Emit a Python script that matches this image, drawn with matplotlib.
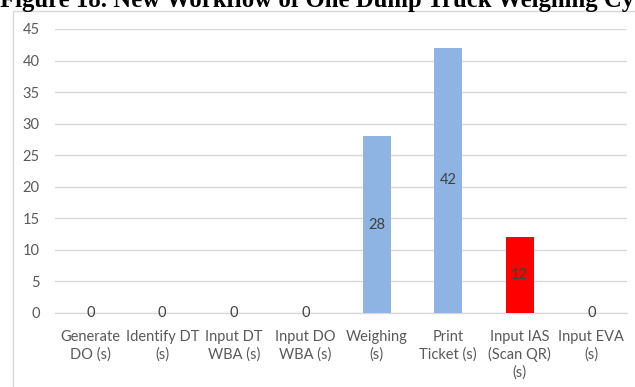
import matplotlib
matplotlib.use("Agg")
import matplotlib.pyplot as plt
from matplotlib.patches import Rectangle

# Time per step of one weighing cycle (seconds)
steps = ["Generate\nDO (s)", "Identify DT\n(s)", "Input DT\nWBA (s)", "Input DO\nWBA (s)",
         "Weighing\n(s)", "Print\nTicket (s)", "Input IAS\n(Scan QR)\n(s)", "Input EVA\n(s)"]
seconds = [0, 0, 0, 0, 28, 42, 12, 0]
bar_colors = ["#8EB4E3"] * 6 + ["#FF0000", "#8EB4E3"]
y_ticks = list(range(0, 50, 5))

W, H = 635, 387
fig = plt.figure(figsize=(W / 100, H / 100), dpi=100)
plt.rcParams["font.family"] = ["Lato", "DejaVu Sans"]

# chart frame
fig.patches.append(Rectangle((12.5 / W, -0.1), 1.2, 1.1 - 10.5 / H, transform=fig.transFigure,
                             fill=False, edgecolor="#D9D9D9", linewidth=1))

ax = fig.add_axes([55 / W, 1 - 313 / H, 572 / W, 284 / H])
x = range(len(steps))
bars = ax.bar(x, seconds, width=0.39, color=bar_colors, zorder=3)

ax.set_xlim(-0.5, len(steps) - 0.5)
ax.set_ylim(0, 45)
ax.set_yticks(y_ticks)
ax.set_xticks(list(x))
ax.set_xticklabels(steps, linespacing=1.3)
ax.tick_params(axis="y", length=0, pad=11, labelsize=10.5, labelcolor="#595959")
ax.tick_params(axis="x", length=0, pad=12, labelsize=10.5, labelcolor="#595959")
ax.grid(axis="y", color="#D9D9D9", linewidth=1, zorder=0)
for s in ["top", "right", "left"]:
    ax.spines[s].set_visible(False)
ax.spines["bottom"].set_color("#D9D9D9")
ax.spines["bottom"].set_linewidth(1)

for rect, v in zip(bars, seconds):
    ax.text(rect.get_x() + rect.get_width() / 2, v / 2, str(v), ha="center", va="center",
            fontsize=10.5, color="#404040", zorder=4)

fig.text(0, 1 - 7 / H, "Figure 18. New Workflow of One Dump Truck Weighing Cycle",
         family="Liberation Serif", fontweight="bold", fontsize=17.8, ha="left", va="baseline")

fig.savefig("out.png", dpi=100)
